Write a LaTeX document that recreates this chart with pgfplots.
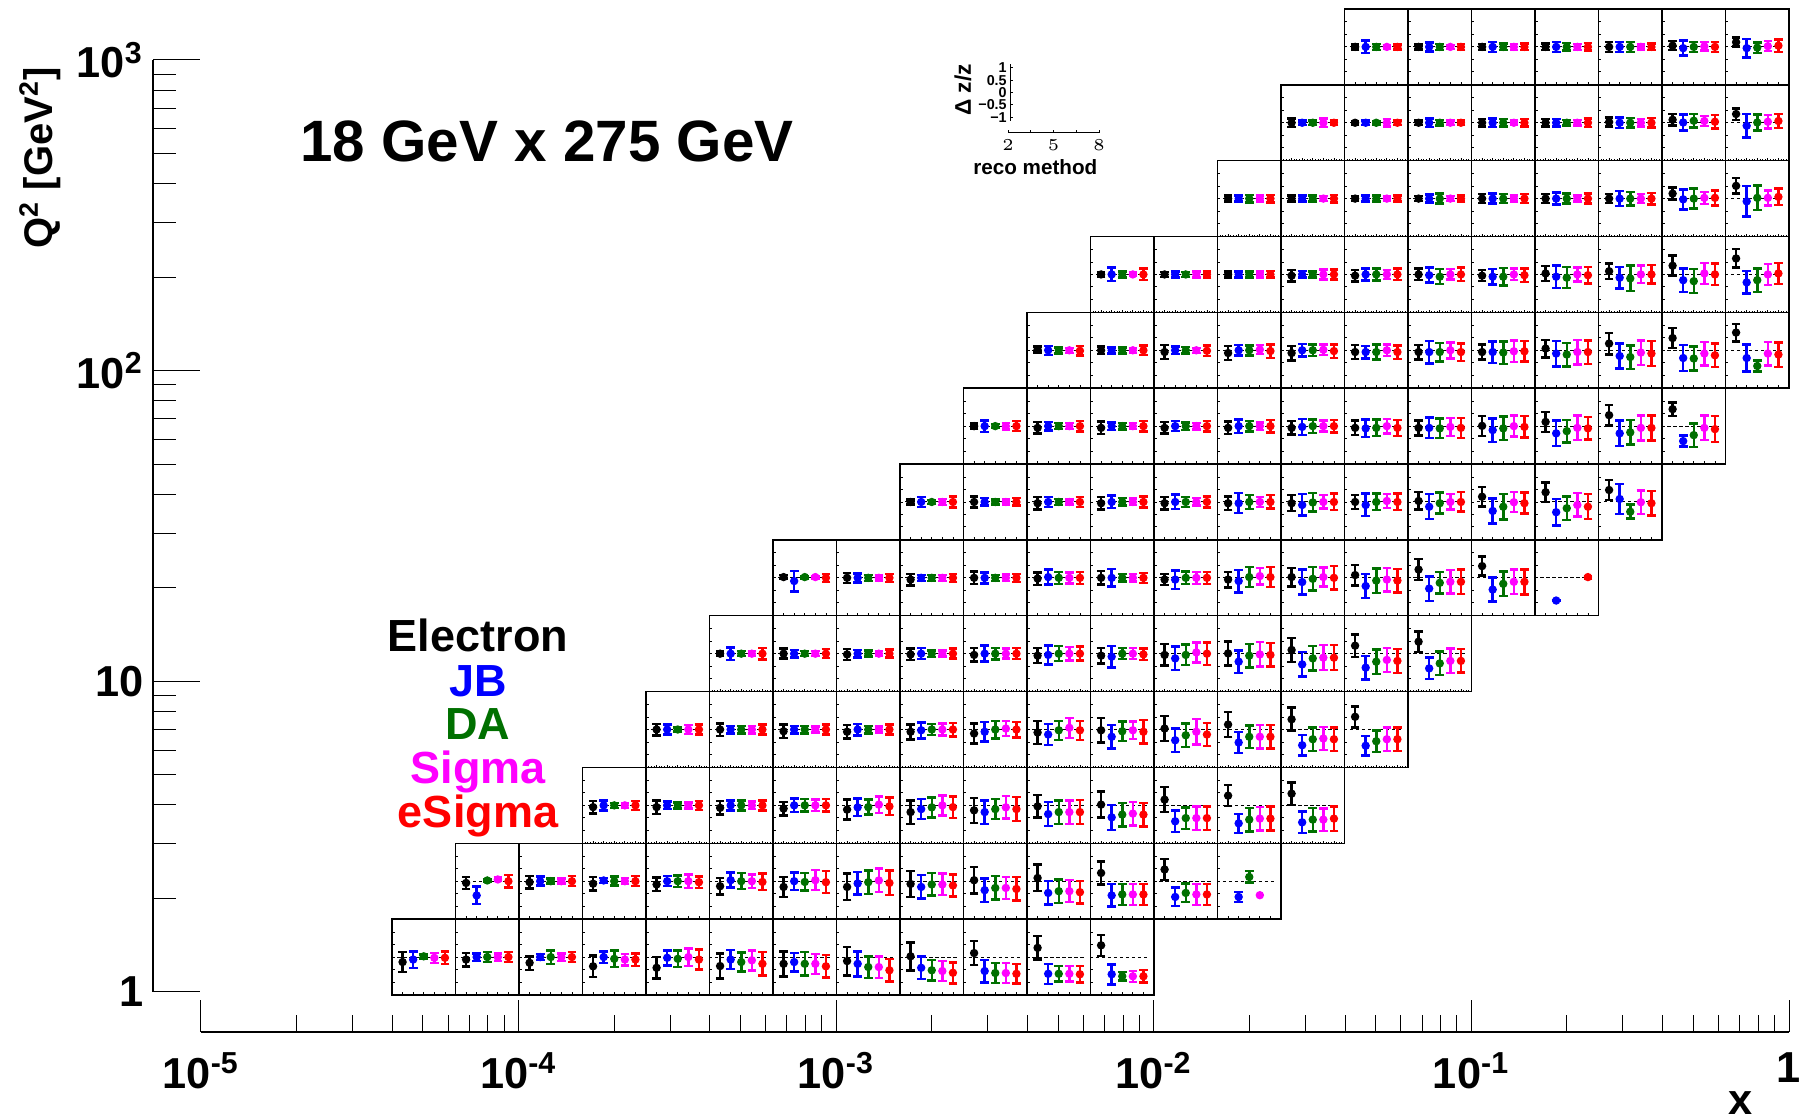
\documentclass[border=0pt]{standalone}
\usepackage{fontspec}
\setmainfont{Liberation Sans}
\usepackage{pgfplots}
\pgfplotsset{compat=1.18}
\usepackage{pgfplotstable}
\definecolor{cE}{RGB}{0,0,0}
\definecolor{cJ}{RGB}{0,0,255}
\definecolor{cD}{RGB}{0,112,0}
\definecolor{cS}{RGB}{255,0,255}
\definecolor{cX}{RGB}{255,0,0}
\newcommand{\fs}[1]{\fontsize{#1}{#1}\selectfont\bfseries}

% r = Q2 row, c = x column; value and error for Electron (E), JB (J), DA (D), Sigma (S), eSigma (X)
\pgfplotstableread{
r c Ev Ee Jv Je Dv De Sv Se Xv Xe
0 0 -0.2 0.4 -0.1 0.33 0.03 0.08 -0.03 0.2 -0.03 0.25
0 1 -0.1 0.27 0 0.15 0 0.2 0 0.15 0 0.2
0 2 -0.23 0.28 0 0.12 0 0.27 0 0.15 0 0.2
0 3 -0.37 0.43 0 0.23 -0.07 0.33 -0.1 0.23 -0.1 0.25
0 4 -0.43 0.43 -0.03 0.3 -0.07 0.33 0 0.35 -0.1 0.4
0 5 -0.36 0.5 -0.1 0.38 -0.2 0.38 -0.13 0.4 -0.27 0.47
0 6 -0.27 0.5 -0.2 0.37 -0.27 0.47 -0.27 0.4 -0.37 0.45
0 7 -0.16 0.57 -0.27 0.5 -0.4 0.43 -0.4 0.43 -0.53 0.45
0 8 0.03 0.56 -0.43 0.45 -0.53 0.41 -0.56 0.4 -0.63 0.42
0 9 0.16 0.48 -0.56 0.45 -0.64 0.4 -0.64 0.4 -0.67 0.39
0 10 0.37 0.47 -0.67 0.4 -0.67 0.31 -0.67 0.31 -0.69 0.33
0 11 0.47 0.42 -0.69 0.4 -0.77 0.17 -0.77 0.22 -0.77 0.25
1 1 -0.07 0.24 -0.57 0.35 0.03 0.05 0.07 0.07 0 0.25
1 2 -0.04 0.25 0 0.18 0 0.1 0 0.1 0 0.2
1 3 -0.1 0.27 0.03 0.1 0 0.18 0 0.12 0 0.2
1 4 -0.13 0.27 0 0.2 0 0.23 0 0.27 -0.04 0.23
1 5 -0.2 0.33 0.04 0.3 0 0.32 0 0.27 -0.03 0.33
1 6 -0.23 0.4 0 0.35 -0.03 0.35 0.04 0.4 -0.04 0.44
1 7 -0.23 0.53 -0.09 0.45 -0.04 0.47 0.03 0.47 -0.07 0.49
1 8 -0.11 0.52 -0.23 0.47 -0.13 0.45 -0.13 0.43 -0.17 0.44
1 9 0.04 0.53 -0.36 0.47 -0.27 0.47 -0.27 0.44 -0.31 0.47
1 10 0.13 0.53 -0.47 0.47 -0.4 0.47 -0.4 0.44 -0.44 0.45
1 11 0.33 0.47 -0.57 0.45 -0.53 0.42 -0.53 0.42 -0.53 0.42
1 12 0.47 0.43 -0.63 0.37 -0.47 0.37 -0.53 0.42 -0.53 0.42
1 13 nan nan -0.63 0.2 0.17 0.23 -0.56 0 nan nan
2 3 -0.07 0.25 0 0.2 0 0.1 0 0.1 0 0.18
2 4 -0.07 0.27 0 0.15 0 0.12 0 0.12 0 0.18
2 5 -0.1 0.27 0 0.2 0 0.2 0 0.15 0 0.2
2 6 -0.13 0.27 0 0.27 0 0.25 0 0.23 0 0.25
2 7 -0.17 0.4 -0.08 0.35 -0.07 0.3 0.03 0.33 -0.04 0.35
2 8 -0.27 0.47 -0.15 0.4 -0.08 0.4 0 0.4 -0.07 0.43
2 9 -0.2 0.5 -0.27 0.47 -0.15 0.4 -0.08 0.45 -0.15 0.48
2 10 -0.04 0.45 -0.35 0.48 -0.27 0.47 -0.27 0.47 -0.27 0.48
2 11 0.03 0.52 -0.48 0.5 -0.37 0.47 -0.33 0.47 -0.37 0.47
2 12 0.23 0.5 -0.64 0.43 -0.51 0.43 -0.51 0.47 -0.51 0.47
2 13 0.39 0.42 -0.72 0.38 -0.57 0.47 -0.53 0.47 -0.53 0.48
2 14 0.47 0.45 -0.68 0.43 -0.57 0.47 -0.57 0.45 -0.53 0.49
3 4 0 0.23 0 0.2 0 0.08 0 0.18 0 0.2
3 5 0 0.25 0 0.15 0 0.15 0 0.15 0 0.2
3 6 -0.07 0.27 0 0.15 0 0.15 0 0.12 0 0.2
3 7 -0.09 0.27 0 0.23 0 0.15 0 0.12 0 0.2
3 8 -0.09 0.3 -0.03 0.32 0 0.22 0 0.24 0 0.27
3 9 -0.16 0.4 -0.09 0.4 0 0.35 0.04 0.3 0 0.31
3 10 -0.12 0.47 -0.2 0.43 -0.03 0.38 0.07 0.4 -0.03 0.38
3 11 -0.03 0.5 -0.29 0.48 -0.07 0.4 -0.03 0.35 -0.09 0.47
3 12 0.04 0.5 -0.43 0.47 -0.23 0.47 -0.09 0.52 -0.2 0.47
3 13 0.2 0.5 -0.52 0.43 -0.29 0.45 -0.29 0.47 -0.29 0.47
3 14 0.41 0.47 -0.63 0.41 -0.39 0.47 -0.36 0.47 -0.39 0.47
3 15 0.51 0.42 -0.65 0.4 -0.47 0.43 -0.39 0.47 -0.39 0.47
4 5 0 0.08 0 0.25 0 0.1 0 0.1 0 0.23
4 6 0 0.2 0 0.15 0 0.1 0 0.1 0 0.18
4 7 -0.03 0.22 0 0.15 0 0.12 0 0.1 0 0.16
4 8 -0.03 0.23 0 0.22 0 0.13 0 0.12 0 0.2
4 9 -0.05 0.27 0 0.32 0 0.23 0 0.2 0 0.22
4 10 -0.08 0.3 -0.05 0.38 0 0.3 0 0.27 0 0.28
4 11 -0.08 0.31 -0.12 0.43 0 0.22 0 0.22 -0.03 0.23
4 12 -0.05 0.43 -0.19 0.47 -0.05 0.41 0.05 0.4 0 0.45
4 13 0.01 0.48 -0.32 0.45 -0.08 0.47 -0.03 0.49 -0.05 0.47
4 14 0.15 0.48 -0.43 0.49 -0.19 0.49 -0.16 0.5 -0.16 0.5
4 15 0.32 0.45 -0.56 0.47 -0.32 0.49 -0.25 0.48 -0.29 0.48
4 16 0.48 0.41 -0.59 0.43 -0.39 0.47 -0.29 0.49 -0.29 0.47
5 6 0.03 0.08 -0.13 0.41 0.03 0.05 0.03 0.05 0 0.16
5 7 0 0.2 0 0.18 0 0.12 0 0.1 0 0.16
5 8 -0.07 0.23 0 0.12 0 0.12 0 0.12 0 0.16
5 9 0 0.25 0 0.22 0 0.12 0 0.13 0 0.16
5 10 -0.03 0.25 0.03 0.3 0 0.24 0 0.22 0 0.24
5 11 0 0.27 0 0.35 0 0.15 0 0.15 0 0.2
5 12 -0.07 0.22 -0.07 0.37 0 0.25 0 0.24 0 0.24
5 13 -0.07 0.31 -0.13 0.45 0.03 0.4 0.07 0.33 0.03 0.4
5 14 0.03 0.37 -0.17 0.5 -0.04 0.47 0.03 0.38 0 0.47
5 15 0.11 0.41 -0.33 0.48 -0.11 0.49 -0.07 0.47 -0.11 0.47
5 16 0.33 0.42 -0.43 0.49 -0.2 0.43 -0.16 0.47 -0.16 0.49
5 17 0.47 0.38 -0.47 0.48 -0.24 0.49 -0.16 0.49 -0.16 0.5
5 18 nan nan -0.91 0 nan nan nan nan 0.03 0.05
6 8 0 0.1 0 0.2 0 0.08 0 0.12 0 0.22
6 9 0 0.22 0 0.15 0 0.1 0 0.1 0 0.15
6 10 -0.05 0.25 0 0.2 0 0.12 0 0.1 0 0.2
6 11 -0.05 0.25 0 0.25 0 0.15 0 0.13 0 0.22
6 12 -0.05 0.25 0 0.29 0 0.2 0 0.15 0 0.22
6 13 -0.05 0.27 -0.05 0.4 0 0.28 0 0.2 0 0.27
6 14 -0.05 0.32 -0.12 0.43 -0.02 0.37 0 0.27 0 0.33
6 15 0 0.28 -0.12 0.45 0 0.33 0.04 0.28 0 0.33
6 16 0.04 0.35 -0.19 0.5 -0.05 0.42 0 0.31 0 0.39
6 17 0.21 0.4 -0.36 0.5 -0.19 0.51 -0.01 0.4 -0.05 0.42
6 18 0.39 0.4 -0.41 0.53 -0.25 0.47 -0.12 0.47 -0.19 0.5
6 19 0.48 0.4 0.12 0.61 -0.39 0.28 -0.01 0.47 -0.05 0.49
7 9 0 0.1 0 0.23 0 0.08 0 0.13 0 0.2
7 10 -0.07 0.23 0 0.17 0 0.12 0 0.12 0 0.21
7 11 -0.07 0.25 0 0.15 0 0.13 0 0.12 0 0.21
7 12 -0.07 0.23 0 0.2 0 0.15 0 0.13 0 0.21
7 13 -0.07 0.25 0 0.27 0 0.21 0 0.15 0 0.25
7 14 -0.07 0.27 -0.03 0.32 0 0.27 0 0.22 0 0.25
7 15 -0.07 0.29 -0.09 0.35 -0.07 0.33 0 0.29 -0.07 0.32
7 16 -0.07 0.3 -0.07 0.41 -0.09 0.39 -0.03 0.36 -0.07 0.4
7 17 0.01 0.4 -0.16 0.47 -0.09 0.47 0 0.42 -0.03 0.43
7 18 0.17 0.4 -0.29 0.51 -0.2 0.45 -0.07 0.49 -0.09 0.45
7 19 0.44 0.41 -0.29 0.51 -0.25 0.49 -0.07 0.5 -0.07 0.5
7 20 0.68 0.27 -0.6 0.22 -0.36 0.47 -0.07 0.49 -0.12 0.52
8 10 0.03 0.12 0 0.18 0 0.12 0 0.1 -0.02 0.19
8 11 0 0.15 0 0.12 0 0.12 0 0.1 0 0.19
8 12 -0.07 0.28 0 0.15 0 0.13 0 0.1 -0.02 0.21
8 13 -0.11 0.28 0 0.21 0 0.2 0.03 0.18 -0.03 0.27
8 14 -0.11 0.29 0 0.25 0 0.23 0.02 0.21 -0.03 0.27
8 15 -0.07 0.28 -0.07 0.25 -0.07 0.3 0 0.23 -0.07 0.27
8 16 -0.07 0.29 -0.07 0.45 -0.07 0.37 0 0.32 -0.07 0.35
8 17 -0.07 0.3 -0.07 0.43 -0.09 0.45 -0.04 0.43 -0.04 0.41
8 18 0.07 0.35 -0.13 0.51 -0.17 0.47 -0.07 0.49 -0.07 0.47
8 19 0.27 0.43 -0.23 0.5 -0.27 0.47 -0.09 0.49 -0.13 0.5
8 20 0.49 0.4 -0.31 0.52 -0.33 0.49 -0.13 0.47 -0.2 0.47
8 21 0.71 0.35 -0.31 0.55 -0.63 0.22 -0.13 0.47 -0.17 0.49
9 11 0 0.08 0 0.27 0 0.12 0 0.07 0 0.23
9 12 0 0.1 0 0.12 0 0.1 0 0.12 0 0.12
9 13 0 0.12 0 0.12 0 0.12 0 0.12 0 0.13
9 14 -0.05 0.23 0 0.13 0 0.12 0 0.2 0 0.2
9 15 -0.05 0.23 0 0.24 0 0.24 0 0.18 0 0.23
9 16 0 0.23 -0.03 0.3 -0.09 0.3 0 0.21 0 0.27
9 17 -0.05 0.22 -0.09 0.31 -0.09 0.35 0 0.23 -0.03 0.27
9 18 0.04 0.3 -0.09 0.45 -0.13 0.42 0 0.28 -0.03 0.33
9 19 0.13 0.31 -0.13 0.43 -0.16 0.51 0 0.35 0 0.37
9 20 0.35 0.4 -0.23 0.47 -0.27 0.48 0.04 0.42 0 0.43
9 21 0.64 0.37 -0.32 0.45 -0.23 0.47 0 0.42 0.04 0.42
10 13 0 0.12 0 0.12 0 0.15 0 0.12 0 0.15
10 14 0 0.12 0 0.12 0 0.12 0 0.1 0 0.15
10 15 0 0.1 0 0.12 0 0.12 0 0.08 0 0.12
10 16 0 0.1 0 0.16 0 0.2 0 0.1 0 0.12
10 17 0 0.18 0 0.2 0 0.18 0 0.12 0 0.18
10 18 0 0.18 0 0.24 0 0.2 0 0.12 0 0.2
10 19 0 0.18 0 0.3 0 0.27 0 0.18 0 0.23
10 20 0.2 0.25 -0.03 0.4 0 0.4 0.03 0.24 0.03 0.3
10 21 0.51 0.31 -0.11 0.61 0.03 0.49 0.03 0.3 0.07 0.33
11 14 0 0.18 0 0.1 0 0.1 0 0.17 0 0.1
11 15 0 0.08 0 0.1 0 0.08 0 0.15 0 0.1
11 16 0 0.1 0 0.17 0 0.12 0 0.1 0 0.1
11 17 0 0.16 0 0.18 0 0.16 0 0.1 0 0.16
11 18 0 0.16 0 0.16 0 0.12 0 0.12 0 0.18
11 19 0.03 0.18 0 0.22 0 0.2 0 0.15 0 0.2
11 20 0.12 0.23 0.01 0.33 0.08 0.27 0.07 0.21 0.04 0.27
11 21 0.35 0.23 -0.12 0.47 0.01 0.33 0.04 0.27 0.07 0.29
12 15 0 0.1 0 0.25 0 0.12 0 0.07 0 0.1
12 16 0 0.1 0 0.18 0 0.12 0 0.08 0 0.12
12 17 0 0.12 0 0.2 0 0.13 0 0.12 0 0.13
12 18 0 0.13 0 0.2 0 0.15 0 0.12 0 0.15
12 19 0 0.2 0 0.2 0 0.2 0 0.1 0 0.13
12 20 0.05 0.18 -0.05 0.3 0 0.2 0.02 0.17 0 0.2
12 21 0.19 0.18 -0.05 0.37 -0.03 0.21 0.03 0.2 0.05 0.25
}\recodata

\pgfplotsset{
  pts/.style={only marks, mark=*, mark size=1.05pt,
    error bars/y dir=both, error bars/y explicit,
    error bars/error mark=-,
    error bars/error bar style={line width=0.75pt, solid},
    error bars/error mark options={rotate=90, mark size=1.3pt, line width=0.75pt}},
}

\begin{document}
\begin{tikzpicture}
\path[use as bounding box] (0,0) rectangle (540.6pt,336pt);
\fill[white] (0,0) rectangle (540.6pt,336pt);

% panel frames, zero lines and panel ticks (pixel-like frame: 1 unit = 0.3pt, y down)
\begin{scope}[shift={(0pt,336pt)}, x=0.3pt, y=-0.3pt]
\foreach \r/\a/\b in {0/0/11,1/1/13,2/3/14,3/4/15,4/5/16,5/6/18,6/8/19,7/9/20,8/10/21,9/11/21,10/13/21,11/14/21,12/15/21}{
  \foreach \c in {\a,...,\b}{
    \begin{scope}[shift={({392+63.5*\c},{995-75.85*\r})}]
      \draw[line width=0.3pt, dash pattern=on 1pt off 0.8pt] (5.3,-37.93) -- (58.2,-37.93);
      \draw[line width=0.8pt, dash pattern=on 0.25pt off 3.4925pt] (1.35,-12.56) -- (1.35,-63.5);
      \draw[line width=0.8pt, dash pattern=on 0.25pt off 2.925pt] (-0.42,-1.35) -- (63.9,-1.35);
      \draw[line width=0.36pt, dash pattern=on 0.25pt off 0.54375pt] (-0.42,-0.6) -- (63.9,-0.6);
      \draw[line width=0.45pt] (0,0) rectangle (63.5,-75.85);
    \end{scope}
  }
}
\end{scope}

% panel contents
\begin{axis}[at={(117.6pt,37.5pt)}, anchor=south west, scale only axis,
  width=419.1pt, height=295.8pt, xmin=0, xmax=132, ymin=0, ymax=39.52,
  hide axis, clip=false]
\addplot[pts, color=cE] table[x expr=\thisrow{c}*6+1, y expr=\thisrow{r}*3.04+1.52+\thisrow{Ev}, y error expr=\thisrow{Ee}] {\recodata};
\addplot[pts, color=cJ] table[x expr=\thisrow{c}*6+2, y expr=\thisrow{r}*3.04+1.52+\thisrow{Jv}, y error expr=\thisrow{Je}] {\recodata};
\addplot[pts, color=cD] table[x expr=\thisrow{c}*6+3, y expr=\thisrow{r}*3.04+1.52+\thisrow{Dv}, y error expr=\thisrow{De}] {\recodata};
\addplot[pts, color=cS] table[x expr=\thisrow{c}*6+4, y expr=\thisrow{r}*3.04+1.52+\thisrow{Sv}, y error expr=\thisrow{Se}] {\recodata};
\addplot[pts, color=cX] table[x expr=\thisrow{c}*6+5, y expr=\thisrow{r}*3.04+1.52+\thisrow{Xv}, y error expr=\thisrow{Xe}] {\recodata};
\end{axis}

% x axis
\begin{axis}[at={(60.3pt,26.4pt)}, anchor=south west, scale only axis,
  width=476.4pt, height=30pt, xmode=log, xmin=1e-5, xmax=1, ymin=0, ymax=1,
  axis x line*=bottom, axis y line=none,
  axis line style={line width=0.7pt,-},
  tick align=inside, major tick length=9.6pt, minor tick length=5.1pt,
  tick style={line width=0.3pt, black},
  xtick={1e-5,1e-4,1e-3,1e-2,1e-1,1},
  xticklabels={10\textsuperscript{-5},10\textsuperscript{-4},10\textsuperscript{-3},10\textsuperscript{-2},10\textsuperscript{-1},1},
  minor xtick={2e-5,3e-5,4e-5,5e-5,6e-5,7e-5,8e-5,9e-5,2e-4,3e-4,4e-4,5e-4,6e-4,7e-4,8e-4,9e-4,2e-3,3e-3,4e-3,5e-3,6e-3,7e-3,8e-3,9e-3,2e-2,3e-2,4e-2,5e-2,6e-2,7e-2,8e-2,9e-2,0.2,0.3,0.4,0.5,0.6,0.7,0.8,0.9},
  xticklabel style={font=\fs{13}, inner sep=0pt, anchor=north, yshift=-6pt}]
\addplot[draw=none] coordinates {(1e-3,0.5)};
\end{axis}

% y axis
\begin{axis}[at={(45.9pt,38.4pt)}, anchor=south west, scale only axis,
  width=30pt, height=279.6pt, ymode=log, ymin=1, ymax=1000, xmin=0, xmax=1,
  axis y line*=left, axis x line=none,
  axis line style={line width=0.4pt,-},
  tick align=inside, major tick length=14.1pt, minor tick length=6.9pt,
  tick style={line width=0.3pt, black},
  ytick={1,10,100,1000},
  yticklabels={1,10,10\textsuperscript{2},10\textsuperscript{3}},
  minor ytick={2,3,4,5,6,7,8,9,20,30,40,50,60,70,80,90,200,300,400,500,600,700,800,900},
  yticklabel style={font=\fs{13}, inner sep=0pt, anchor=east, xshift=-2.7pt}]
\addplot[draw=none] coordinates {(0.5,10)};
\end{axis}

% inset: axis description of the panels
\begin{axis}[at={(303pt,299.7pt)}, anchor=south west, scale only axis,
  width=6pt, height=17pt, xmin=0, xmax=1, ymin=-1.15, ymax=1.15,
  axis y line*=left, axis x line=none,
  axis line style={line width=0.3pt,-},
  tick align=inside, major tick length=0.8pt,
  tick style={line width=0.3pt, black},
  ytick={-1,-0.5,0,0.5,1}, yticklabels={−1,−0.5,0,0.5,1},
  yticklabel style={font=\fs{4.3}, inner sep=0pt, anchor=east, xshift=-0.8pt}]
\addplot[draw=none] coordinates {(0.5,0)};
\end{axis}
\begin{axis}[at={(302.4pt,296.2pt)}, anchor=south west, scale only axis,
  width=27.3pt, height=6pt, xmin=2, xmax=8, ymin=0, ymax=1,
  axis x line*=bottom, axis y line=none,
  axis line style={line width=0.3pt,-},
  tick align=inside, major tick length=0.9pt, minor tick length=0.9pt,
  tick style={line width=0.3pt, black},
  xtick={2,5,8}, minor xtick={3.5,6.5},
  xticklabel style={font=\fs{4.3}, inner sep=0pt, anchor=north, yshift=-1.8pt}]
\addplot[draw=none] coordinates {(5,0.5)};
\end{axis}
\node[font=\fs{6.2}] at (310.6pt,285.9pt) {reco method};
\node[font=\fs{6.8}, rotate=90] at (288.9pt,309pt) {Δ z/z};

% titles and labels
\node[font=\fs{12}, rotate=90] at (12pt,288.6pt) {Q\textsuperscript{2} [GeV\textsuperscript{2}]};
\node[font=\fs{13}] at (522.3pt,5.1pt) {x};
\node[font=\fs{17.5}] at (164.1pt,293.7pt) {18 GeV x 275 GeV};

% method legend
\node[font=\fs{13.5}, text=cE, anchor=base, inner sep=0pt] at (143.4pt,140.5pt) {Electron};
\node[font=\fs{13.5}, text=cJ, anchor=base, inner sep=0pt] at (143.4pt,127.1pt) {JB};
\node[font=\fs{13.5}, text=cD, anchor=base, inner sep=0pt] at (143.4pt,114.0pt) {DA};
\node[font=\fs{13.5}, text=cS, anchor=base, inner sep=0pt] at (143.4pt,100.9pt) {Sigma};
\node[font=\fs{13.5}, text=cX, anchor=base, inner sep=0pt] at (143.4pt,87.8pt) {eSigma};
\end{tikzpicture}
\end{document}
